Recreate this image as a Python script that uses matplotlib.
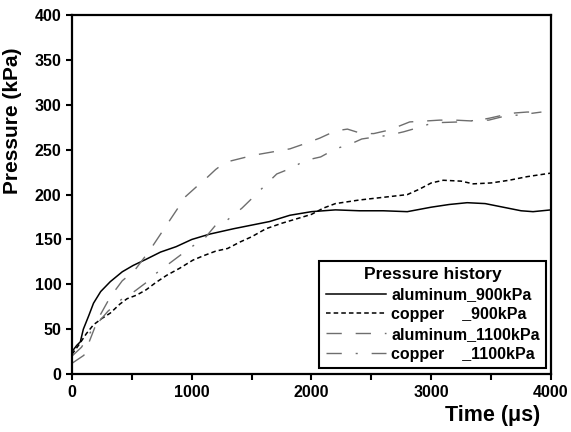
import matplotlib
matplotlib.use("Agg")
import matplotlib.pyplot as plt
from matplotlib.ticker import MultipleLocator

plt.rcParams['font.family'] = ['Liberation Sans', 'DejaVu Sans']
plt.rcParams['font.weight'] = 'bold'

# aluminum 900 kPa (solid)
t_al900 = [0, 40, 70, 95, 140, 180, 240, 320, 420, 510, 620, 740, 870, 1000, 1150,
           1350, 1500, 1650, 1820, 2000, 2200, 2400, 2600, 2800, 3000, 3150, 3300,
           3450, 3600, 3750, 3850, 4000]
p_al900 = [25, 32, 36, 50, 65, 79, 92, 103, 114, 121, 128, 136, 142, 150, 156,
           162, 166, 170, 177, 181, 183, 182, 182, 181, 186, 189, 191,
           190, 186, 182, 181, 183]

# copper 900 kPa (short dash)
t_cu900 = [0, 60, 120, 180, 250, 320, 400, 460, 540, 620, 700, 790, 900, 1010, 1100,
           1200, 1300, 1400, 1500, 1620, 1750, 1900, 2000, 2100, 2200, 2400, 2600,
           2800, 2900, 3000, 3100, 3250, 3350, 3500, 3650, 3800, 4000]
p_cu900 = [22, 33, 45, 55, 62, 68, 78, 84, 88, 94, 102, 110, 118, 127, 132,
           137, 140, 147, 153, 162, 168, 174, 178, 185, 190, 194, 197,
           200, 206, 213, 216, 215, 212, 213, 216, 220, 224]

# aluminum 1100 kPa (long dash)
t_al1100 = [0, 100, 150, 220, 320, 420, 520, 650, 790, 880, 950, 1050, 1120, 1200,
            1280, 1400, 1520, 1650, 1820, 1950, 2070, 2200, 2300, 2420, 2520, 2650,
            2820, 2950, 3070, 3200, 3350, 3480, 3580, 3700, 3800, 3920]
p_al1100 = [12, 21, 38, 62, 86, 104, 115, 138, 166, 184, 198, 210, 218, 228,
            236, 240, 244, 247, 251, 257, 263, 271, 273, 268, 268, 272,
            281, 282, 283, 283, 282, 285, 288, 291, 292, 292]

# copper 1100 kPa (dash-dot)
t_cu1100 = [0, 80, 170, 300, 420, 520, 620, 700, 800, 900, 1000, 1100, 1200, 1300,
            1420, 1520, 1610, 1710, 1840, 1945, 2077, 2200, 2320, 2420, 2520, 2640,
            2770, 2900, 3015, 3240, 3390, 3480, 3600, 3750, 3920]
p_cu1100 = [20, 30, 50, 70, 84, 92, 102, 112, 122, 132, 142, 150, 166, 172,
            185, 198, 210, 223, 230, 238, 242, 251, 256, 262, 264, 266,
            270, 275, 280, 281, 283, 283, 287, 289, 292]

gray = '#6e6e6e'

fig = plt.figure(figsize=(5.71, 4.32), dpi=100)
ax = fig.add_axes([0.126, 0.134, 0.839, 0.831])

ax.plot(t_al900, p_al900, color='black', lw=1.1, label='aluminum_900kPa')
ax.plot(t_cu900, p_cu900, color='black', lw=1.1, dashes=(3, 2), label='copper    _900kPa')
ax.plot(t_al1100, p_al1100, color=gray, lw=1.0, dashes=(11, 10), label='aluminum_1100kPa')
ax.plot(t_cu1100, p_cu1100, color=gray, lw=1.0, dashes=(11, 10, 1.5, 10), label='copper    _1100kPa')

ax.set_xlim(0, 4000)
ax.set_ylim(0, 400)
ax.xaxis.set_major_locator(MultipleLocator(1000))
ax.xaxis.set_minor_locator(MultipleLocator(500))
ax.yaxis.set_major_locator(MultipleLocator(50))
ax.tick_params(which='both', direction='out', width=1.5, labelsize=11.5)
ax.tick_params(which='major', length=4)
ax.tick_params(which='minor', length=4)
for s in ax.spines.values():
    s.set_linewidth(1.6)

ax.set_xlabel('Time (\u03bcs)', fontsize=15.5, fontweight='bold', loc='right')
ax.xaxis.set_label_coords(0.977, -0.085)
ax.set_ylabel('Pressure (kPa)', fontsize=15, fontweight='bold')
ax.yaxis.set_label_coords(-0.104, 0.705)

leg = ax.legend(title='Pressure history', loc='lower right', bbox_to_anchor=(0.99, 0.017),
                borderaxespad=0, fancybox=False, frameon=True, handlelength=3.8,
                handletextpad=0.3, labelspacing=0.3, fontsize=11.5,
                title_fontproperties={'weight': 'bold', 'size': 12.5})
leg.get_frame().set_edgecolor('black')
leg.get_frame().set_linewidth(1.5)
leg.get_frame().set_alpha(1)

fig.savefig('out.png', dpi=100)
